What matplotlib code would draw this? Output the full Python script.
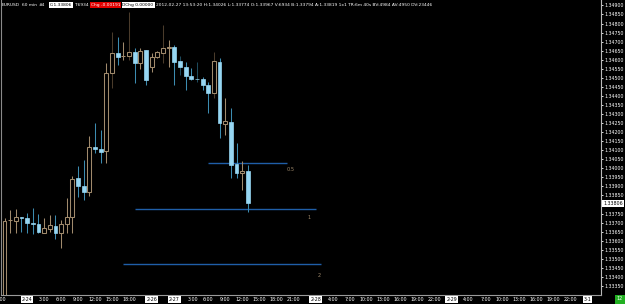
import matplotlib
matplotlib.use("Agg")
import matplotlib.pyplot as plt
import matplotlib.transforms as mtransforms
from matplotlib import font_manager
import numpy as np

# --- hourly EURUSD candles (oldest first) ---------------------------------
opens = [1.33273, 1.33713, 1.33709, 1.33729, 1.33728, 1.33700, 1.33693, 1.33645,
         1.33667, 1.33682, 1.33641, 1.33691, 1.33733, 1.33945, 1.33904, 1.33871,
         1.34118, 1.34106, 1.34096, 1.34525, 1.34636, 1.34620, 1.34621, 1.34641,
         1.34581, 1.34654, 1.34562, 1.34614, 1.34636, 1.34665, 1.34672, 1.34593,
         1.34562, 1.34510, 1.34495, 1.34494, 1.34461, 1.34418, 1.34586, 1.34247,
         1.34258, 1.34023, 1.33973, 1.33986]
highs = [1.33726, 1.33770, 1.33776, 1.33732, 1.33754, 1.33783, 1.33748, 1.33728,
         1.33743, 1.33743, 1.33715, 1.33835, 1.33958, 1.34013, 1.34046, 1.34179,
         1.34249, 1.34212, 1.34581, 1.34755, 1.34728, 1.34700, 1.34866, 1.34664,
         1.34664, 1.34656, 1.34639, 1.34650, 1.34792, 1.34709, 1.34681, 1.34621,
         1.34590, 1.34553, 1.34590, 1.34507, 1.34479, 1.34645, 1.34608, 1.34387,
         1.34332, 1.34139, 1.34041, 1.34019]
lows = [1.33262, 1.33643, 1.33643, 1.33649, 1.33643, 1.33638, 1.33641, 1.33643,
        1.33650, 1.33610, 1.33560, 1.33641, 1.33645, 1.33844, 1.33825, 1.33848,
        1.34083, 1.34028, 1.34028, 1.34443, 1.34571, 1.34599, 1.34599, 1.34470,
        1.34548, 1.34461, 1.34534, 1.34608, 1.34581, 1.34562, 1.34461, 1.34516,
        1.34433, 1.34488, 1.34479, 1.34433, 1.34308, 1.34387, 1.34170, 1.34185,
        1.33945, 1.33945, 1.33881, 1.33761]
closes = [1.33709, 1.33716, 1.33732, 1.33726, 1.33700, 1.33693, 1.33647, 1.33669,
          1.33686, 1.33641, 1.33693, 1.33732, 1.33940, 1.33904, 1.33868, 1.34120,
          1.34106, 1.34092, 1.34525, 1.34636, 1.34617, 1.34622, 1.34641, 1.34581,
          1.34650, 1.34488, 1.34614, 1.34641, 1.34664, 1.34668, 1.34590, 1.34559,
          1.34510, 1.34494, 1.34491, 1.34461, 1.34418, 1.34593, 1.34249, 1.34262,
          1.34019, 1.33973, 1.33986, 1.33806]
dim_wicks = [19, 22, 28, 31, 34, 37]
last_price = 1.33806

# horizontal levels drawn on the chart
level_names = ["0.5", "1", "2"]
level_prices = [1.34030, 1.33776, 1.33470]
level_start = [36, 23, 21]
level_end = [50, 55, 56]

# time axis labels (bar index, text)
xlabel_pos = [-0.9, 4, 7, 10, 13, 16, 19, 22, 26, 30, 33.3, 36, 39, 42, 45, 48, 51,
              55, 58, 61, 64, 67, 70, 73, 76, 79, 82, 85, 88, 91, 94, 97, 100, 103]
xlabel_txt = ["21:00", "2-24", "3:00", "6:00", "9:00", "12:00", "15:00", "18:00",
              "2-26", "2-27", "3:00", "6:00", "9:00", "12:00", "15:00", "18:00", "21:00",
              "2-28", "4:00", "7:00", "10:00", "13:00", "16:00", "19:00", "22:00",
              "2-29", "4:00", "7:00", "10:00", "13:00", "16:00", "19:00", "22:00", "3-1"]

header = [
    ("EURUSD", None), ("60 min", None), ("#4", None), ("C:1.33806", "white"),
    ("T:6934", None), ("Chg -0.00191", "red"), ("DChg 0.00000", "white"),
    ("2012-02-27 13:53:20 H:1.34026 L:1.33774 O:1.33967 V:6934 B:1.33794 "
     "A:1.33819 1x1 TR:6m 40s BV:4984 AV:4950 DV:23446", None),
]
header_x = [2, 17, 32, 50, 74, 89, 122, 156]

try:
    font_manager.findfont("Liberation Sans Narrow", fallback_to_default=False)
    FONT = "Liberation Sans Narrow"
except ValueError:
    FONT = "DejaVu Sans"
plt.rcParams["font.family"] = [FONT, "DejaVu Sans"]

UP = "#a08a6c"
UP_DIM = "#4a3b2b"
DN_BODY = "#96d6f2"
DN_WICK = "#3c8cb0"
DN_DIM = "#1e4a5c"
LEVEL = "#1f5ea8"

W, H = 625, 304
fig = plt.figure(figsize=(W / 100, H / 100), dpi=100, facecolor="black")
ax = fig.add_axes([1 / W, 9 / H, 600 / W, 295 / H], facecolor="black")

x = np.arange(len(opens))
o = np.array(opens)
c = np.array(closes)
up = c >= o

for i in x:
    if up[i]:
        col = UP_DIM if i in dim_wicks else UP
    else:
        col = DN_DIM if i in dim_wicks else DN_WICK
    ax.vlines(i, lows[i], highs[i], color=col, lw=0.75, zorder=2)

body = np.maximum(np.abs(c - o), 0.00002)
bottom = np.minimum(o, c)
ax.bar(x[up], body[up], bottom=bottom[up], width=0.68, facecolor="black",
       edgecolor=UP, linewidth=0.75, zorder=3)
ax.bar(x[~up], body[~up], bottom=bottom[~up], width=0.68, facecolor=DN_BODY,
       edgecolor=DN_BODY, linewidth=0.5, zorder=3)

for name, p, s, e in zip(level_names, level_prices, level_start, level_end):
    ax.hlines(p, s, e, color=LEVEL, lw=1.0, zorder=1)
label_off = {"0.5": (-1, -7, "left"), "1": (-7, -9, "center"), "2": (-2, -11, "center")}
for name, p, e in zip(level_names, level_prices, level_end):
    dx, dy, ha = label_off[name]
    ax.annotate(name, (e, p), xytext=(dx, dy), textcoords="offset pixels",
                ha=ha, va="center", color=UP, fontsize=3.6)

ax.set_xlim(-0.62, 105.4)
ax.set_ylim(1.33300, 1.34930)

# price scale on the right; the 1.33800 label sits under the last-price box
yt = np.round(np.arange(1.3335, 1.34901, 0.0005), 5)
ax.yaxis.tick_right()
ax.set_yticks(yt)
ax.set_yticklabels(["" if abs(v - 1.338) < 1e-6 else f"{v:.5f}" for v in yt])
ax.tick_params(axis="y", colors="white", labelsize=3.4, length=1.5, width=0.6, pad=0.8)
ax.set_xticks([])

ax.spines["top"].set_visible(False)
ax.spines["right"].set_color("#b8b8b8")
ax.spines["bottom"].set_color("#9a9a9a")
ax.spines["left"].set_color("#8a8a8a")
for side in ["right", "bottom", "left"]:
    ax.spines[side].set_linewidth(0.8)

ax.annotate(f"{last_price:.5f}", (1.0, last_price), xycoords=("axes fraction", "data"),
            xytext=(2, 0), textcoords="offset pixels", ha="left", va="center",
            fontsize=3.4, color="black", zorder=10, annotation_clip=False,
            bbox=dict(boxstyle="square,pad=0.2", fc="white", ec="none"))

trans = mtransforms.blended_transform_factory(ax.transData, fig.transFigure)
for pos, txt in zip(xlabel_pos, xlabel_txt):
    is_date = "-" in txt
    ax.text(pos, 4.5 / H, txt, transform=trans, ha="center", va="center",
            fontsize=3.4, color="black" if is_date else "white", clip_on=False,
            bbox=dict(boxstyle="square,pad=0.2", fc="white", ec="none") if is_date else None)

fig.text(620 / W, 5 / H, "12", ha="center", va="center", fontsize=3.6, color="white",
         bbox=dict(boxstyle="square,pad=0.4", fc="#22b022", ec="none"))

# header strip, laid out left to right so the pieces never collide
renderer = fig.canvas.get_renderer()
prev_end = 0
for (txt, box), hx in zip(header, header_x):
    kw = {}
    tcol = "white"
    if box == "white":
        kw["bbox"] = dict(boxstyle="square,pad=0.2", fc="white", ec="none")
        tcol = "black"
    elif box == "red":
        kw["bbox"] = dict(boxstyle="square,pad=0.2", fc="#e00000", ec="none")
    start = max(hx, prev_end + 2)
    t = fig.text(start / W, 1 - 5 / H, txt, ha="left", va="center", fontsize=3.2,
                 color=tcol, **kw)
    prev_end = t.get_window_extent(renderer).x1

fig.savefig("out.png", dpi=100, facecolor="black")
